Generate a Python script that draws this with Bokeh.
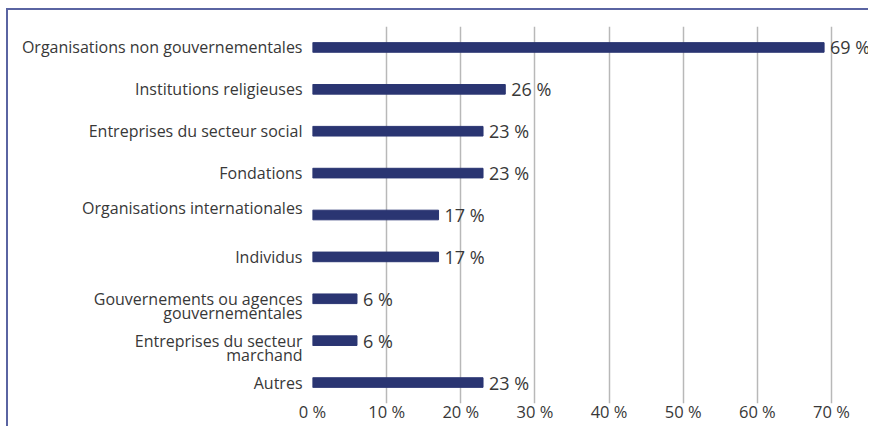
from bokeh.plotting import figure
from bokeh.models import FixedTicker, ColumnDataSource, LabelSet, Range1d
from bokeh.embed import file_html
from bokeh.resources import INLINE
from bokeh.core.properties import value

categories = [
    "Organisations non gouvernementales",
    "Institutions religieuses",
    "Entreprises du secteur social",
    "Fondations",
    "Organisations internationales",
    "Individus",
    "Gouvernements ou agences gouvernementales",
    "Entreprises du secteur marchand",
    "Autres",
]
# wrapped labels as displayed on the axis (blank lines reproduce the original placement)
category_labels = [
    "Organisations non gouvernementales",
    "Institutions religieuses",
    "Entreprises du secteur social",
    "Fondations",
    "Organisations internationales\n ",
    "Individus",
    " \nGouvernements ou agences\ngouvernementales",
    " \nEntreprises du secteur\nmarchand",
    "Autres",
]
values = [69, 26, 23, 23, 17, 17, 6, 6, 23]
x_ticks = [0, 10, 20, 30, 40, 50, 60, 70]
x_tick_labels = ["0 %", "10 %", "20 %", "30 %", "40 %", "50 %", "60 %", "70 %"]

FONT = "Open Sans"
TEXT = "#383838"
BAR = "#2a3572"
BORDER = "#5a64a2"

pos = list(range(len(categories)))
src = ColumnDataSource(dict(
    pos=pos,
    cat=categories,
    val=values,
    lab=[f"{v} %" for v in values],
))

p = figure(
    y_range=Range1d(len(categories) - 0.5, -0.5),
    x_range=(0, 75.26),
    width=862, height=418,
    output_backend="svg", toolbar_location=None,
    min_border_left=304, min_border_right=0,
    min_border_top=16, min_border_bottom=25,
    styles={"border-left": f"2px solid {BORDER}", "border-top": f"2px solid {BORDER}",
            "margin-left": "6px", "margin-top": "8px"},
)
p.outline_line_color = None

p.hbar(y="pos", right="val", left=0, height=0.23, color=BAR, source=src)

labels = LabelSet(x="val", y="pos", text="lab", source=src, x_offset=6,
                  text_baseline="middle", text_font=value(FONT),
                  text_font_size="18px", text_color=TEXT)
p.add_layout(labels)

p.xaxis.ticker = FixedTicker(ticks=x_ticks)
p.xaxis.major_label_overrides = {t: l for t, l in zip(x_ticks, x_tick_labels)}
p.xaxis.axis_line_color = None
p.xaxis.major_tick_line_color = None
p.xaxis.major_tick_out = 0
p.xaxis.minor_tick_line_color = None
p.xaxis.major_label_standoff = -4
p.xaxis.major_label_text_font = FONT
p.xaxis.major_label_text_font_size = "16.5px"
p.xaxis.major_label_text_color = TEXT

p.yaxis.ticker = FixedTicker(ticks=pos)
p.yaxis.major_label_overrides = {i: l for i, l in zip(pos, category_labels)}
p.yaxis.axis_line_color = None
p.yaxis.major_tick_line_color = None
p.yaxis.minor_tick_line_color = None
p.yaxis.major_tick_out = 0
p.yaxis.major_label_standoff = 10
p.yaxis.major_label_text_font = FONT
p.yaxis.major_label_text_font_size = "16px"
p.yaxis.major_label_text_color = TEXT
p.yaxis.major_label_text_align = "right"
p.yaxis.major_label_text_line_height = 0.66

p.ygrid.grid_line_color = None
p.xgrid.grid_line_color = "#b8b8b8"
p.xgrid.grid_line_width = 1.5

open("out.html", "w").write(file_html(p, INLINE))
